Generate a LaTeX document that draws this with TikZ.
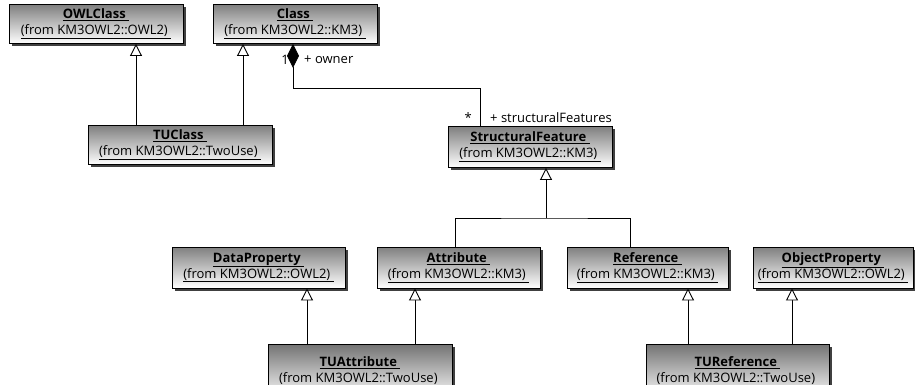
\documentclass[tikz,border=0pt]{standalone}
\usepackage{fontspec}
\setmainfont{Open Sans}
\usepackage{tikz}
\usetikzlibrary{arrows.meta,shadows}

\tikzset{
  umlclass/.style={draw, line width=0.9pt, minimum height=39, inner sep=1pt,
    top color=black!50, bottom color=white, align=center,
    font=\fontsize{13}{16}\selectfont,
    drop shadow={shadow xshift=2.5pt, shadow yshift=-2.5pt, fill=black!75, opacity=1}},
  gen/.style={line width=0.9pt, -{Triangle[open, length=12pt, width=12pt, fill=white]}},
  comp/.style={line width=0.9pt, {Diamond[length=24pt, width=12pt]}-},
  rolename/.style={font=\fontsize{13}{16}\selectfont, inner sep=0pt}
}
\newcommand{\umlname}[2]{\underline{\textbf{#1}\ }\\\underline{(from KM3OWL2::#2)\ }}

\begin{document}
\begin{tikzpicture}[x=1pt, y=-1pt]
    \clip (0,0) rectangle (915,385);

    % Top row: OWL class and KM3 class
    \node[umlclass, minimum width=174] (owl) at (96,24) {\umlname{OWLClass}{OWL2}};
    \node[umlclass, minimum width=164] (cls) at (295,24) {\umlname{Class}{KM3}};
    \node[umlclass, minimum width=184] (tucls) at (180,145) {\umlname{TUClass}{TwoUse}};
    \node[umlclass, minimum width=164, minimum height=41] (sf) at (530,147) {\umlname{StructuralFeature}{KM3}};

    % Middle row: properties
    \node[umlclass, minimum width=173, minimum height=41] (dp) at (258.5,267.5) {\umlname{DataProperty}{OWL2}};
    \node[umlclass, minimum width=163, minimum height=41] (attr) at (458.5,267.5) {\umlname{Attribute}{KM3}};
    \node[umlclass, minimum width=161, minimum height=41] (ref) at (647.5,267.5) {\umlname{Reference}{KM3}};
    \node[umlclass, minimum width=160, minimum height=41] (op) at (833,267.5) {\umlname{ObjectProperty}{OWL2}};

    % Bottom row: TwoUse classes (cut off by the page edge)
    \node[umlclass, minimum width=184, minimum height=56, top color=black!55] (tuattr) at (360,372) {\umlname{TUAttribute}{TwoUse}};
    \node[umlclass, minimum width=183, minimum height=56, top color=black!55] (turef) at (737.5,372) {\umlname{TUReference}{TwoUse}};

    % x positions of the connectors
    \coordinate (x1) at (136,0);
    \coordinate (x2) at (243,0);
    \coordinate (x3) at (307,0);
    \coordinate (x4) at (415,0);
    \coordinate (x5) at (688,0);
    \coordinate (x6) at (792,0);
    \coordinate (xa) at (455,0);
    \coordinate (xr) at (630,0);
    \coordinate (xsf) at (480,0);
    \coordinate (bend) at (293,88);
    \coordinate (join) at (546,218);

    % Generalizations
    \draw[gen] (tucls.north -| x1) -- (owl.south -| x1);
    \draw[gen] (tucls.north -| x2) -- (cls.south -| x2);
    \draw[gen] (tuattr.north -| x3) -- (dp.south -| x3);
    \draw[gen] (tuattr.north -| x4) -- (attr.south -| x4);
    \draw[gen] (turef.north -| x5) -- (ref.south -| x5);
    \draw[gen] (turef.north -| x6) -- (op.south -| x6);
    \draw[line width=0.9pt] (attr.north -| xa) |- (join) -| (ref.north -| xr);
    \draw[gen] (join) -- (sf.south -| join);

    % Composition owner / structuralFeatures
    \draw[comp] (cls.south -| bend) -- (bend) -| (sf.north -| xsf);
    \node[rolename, anchor=east] (one) at (289,60) {1};
    \node[rolename, anchor=west] (owner) at (304,60) {+ owner};
    \node[rolename, anchor=east] (many) at (472,118) {*};
    \node[rolename, anchor=west] (feats) at (490,118) {+ structuralFeatures};
\end{tikzpicture}
\end{document}
